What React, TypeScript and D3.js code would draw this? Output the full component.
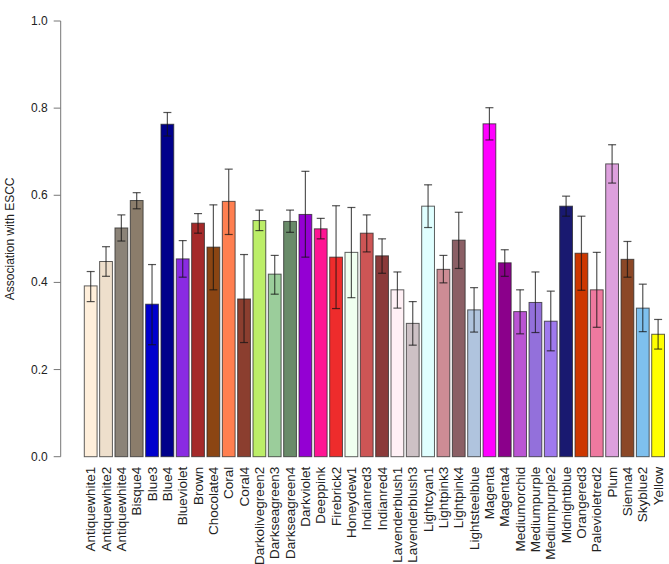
import React from "react";
import * as d3 from "d3";

const categories = [
  "Antiquewhite1", "Antiquewhite2", "Antiquewhite4", "Bisque4", "Blue3", "Blue4",
  "Blueviolet", "Brown", "Chocolate4", "Coral", "Coral4", "Darkolivegreen2",
  "Darkseagreen3", "Darkseagreen4", "Darkviolet", "Deeppink", "Firebrick2", "Honeydew1",
  "Indianred3", "Indianred4", "Lavenderblush1", "Lavenderblush3", "Lightcyan1", "Lightpink3",
  "Lightpink4", "Lightsteelblue", "Magenta", "Magenta4", "Mediumorchid", "Mediumpurple",
  "Mediumpurple2", "Midnightblue", "Orangered3", "Palevioletred2", "Plum", "Sienna4",
  "Skyblue2", "Yellow",
];

const values = [
  0.392, 0.448, 0.525, 0.588, 0.350, 0.763,
  0.454, 0.536, 0.481, 0.586, 0.362, 0.542,
  0.419, 0.540, 0.556, 0.523, 0.458, 0.469,
  0.513, 0.461, 0.383, 0.306, 0.575, 0.430,
  0.497, 0.337, 0.764, 0.445, 0.333, 0.354,
  0.311, 0.575, 0.467, 0.383, 0.672, 0.453,
  0.341, 0.281,
];

const upper = [
  0.425, 0.482, 0.555, 0.606, 0.441, 0.790,
  0.496, 0.558, 0.578, 0.660, 0.464, 0.566,
  0.462, 0.566, 0.655, 0.547, 0.576, 0.572,
  0.555, 0.500, 0.424, 0.356, 0.624, 0.462,
  0.561, 0.388, 0.801, 0.475, 0.383, 0.424,
  0.380, 0.598, 0.552, 0.469, 0.716, 0.494,
  0.396, 0.315,
];

const lower = [
  0.356, 0.414, 0.495, 0.569, 0.257, 0.736,
  0.412, 0.513, 0.383, 0.510, 0.262, 0.519,
  0.373, 0.515, 0.458, 0.500, 0.340, 0.365,
  0.470, 0.421, 0.341, 0.256, 0.526, 0.399,
  0.432, 0.286, 0.727, 0.414, 0.282, 0.285,
  0.243, 0.552, 0.382, 0.297, 0.628, 0.412,
  0.287, 0.247,
];

const barColors = [
  "#FFEFDB", "#EEDFCC", "#8B8378", "#8B7D6B", "#0000CD", "#00008B",
  "#8A2BE2", "#A52A2A", "#8B4513", "#FF7F50", "#8B3E2F", "#BCEE68",
  "#9BCD9B", "#698B69", "#9400D3", "#FF1493", "#EE2C2C", "#F0FFF0",
  "#CD5555", "#8B3A3A", "#FFF0F5", "#CDC1C5", "#E0FFFF", "#CD8C95",
  "#8B5F65", "#B0C4DE", "#FF00FF", "#8B008B", "#BA55D3", "#9370DB",
  "#9F79EE", "#191970", "#CD3700", "#EE799F", "#DDA0DD", "#8B4726",
  "#7EC0EE", "#FFFF00",
];

const yTicks = [0, 0.2, 0.4, 0.6, 0.8, 1.0];
const yTitle = "Association with ESCC";

const W = 669;
const H = 564;
const plotTop = 21;
const plotBottom = 456.7;
const axisX = 60.7;

export default function App() {
  const y = d3.scaleLinear().domain([0, 1]).range([plotBottom, plotTop]);
  const x = d3
    .scaleBand<string>()
    .domain(categories)
    .range([84.3, 664.5])
    .paddingInner(1 / 6)
    .paddingOuter(0);
  const bw = x.bandwidth();
  const font = "'Liberation Sans', Arial, Helvetica, sans-serif";
  const capW = 8;

  return (
    <svg
      width={W}
      height={H}
      style={{ position: "absolute", left: 0, top: 0, background: "#fff" }}
      fontFamily={font}
    >
      <rect x={0} y={0} width={W} height={H} fill="#fff" />
      {/* y axis */}
      <line x1={axisX} x2={axisX} y1={y(0)} y2={y(1)} stroke="#777" strokeWidth={1} />
      {yTicks.map((t) => (
        <g key={t}>
          <line x1={axisX - 7} x2={axisX} y1={y(t)} y2={y(t)} stroke="#777" strokeWidth={1} />
          <text
            x={axisX - 13}
            y={y(t)}
            textAnchor="end"
            dominantBaseline="central"
            fontSize={12}
            fill="#222"
          >
            {d3.format(".1f")(t)}
          </text>
        </g>
      ))}
      <text
        transform={`translate(10,${(y(0) + y(1)) / 2}) rotate(-90)`}
        textAnchor="middle"
        dominantBaseline="central"
        fontSize={12}
        fill="#222"
      >
        {yTitle}
      </text>
      {/* bars */}
      {categories.map((c, i) => {
        const x0 = x(c)!;
        return (
          <rect
            key={c}
            x={x0}
            y={y(values[i])}
            width={bw}
            height={y(0) - y(values[i])}
            fill={barColors[i]}
            stroke="rgba(40,40,40,0.75)"
            strokeWidth={1}
          />
        );
      })}
      {/* error bars */}
      {categories.map((c, i) => {
        const cx = x(c)! + bw / 2;
        return (
          <g key={c} stroke="rgba(20,20,20,0.72)" strokeWidth={1.2}>
            <line x1={cx} x2={cx} y1={y(upper[i])} y2={y(lower[i])} />
            <line x1={cx - capW / 2} x2={cx + capW / 2} y1={y(upper[i])} y2={y(upper[i])} />
            <line x1={cx - capW / 2} x2={cx + capW / 2} y1={y(lower[i])} y2={y(lower[i])} />
          </g>
        );
      })}
      {/* x labels */}
      {categories.map((c) => {
        const cx = x(c)! + bw / 2;
        return (
          <text
            key={c}
            transform={`translate(${cx},${plotBottom + 10}) rotate(-90)`}
            textAnchor="end"
            dominantBaseline="central"
            fontSize={13.5}
            fill="#222"
          >
            {c}
          </text>
        );
      })}
    </svg>
  );
}
